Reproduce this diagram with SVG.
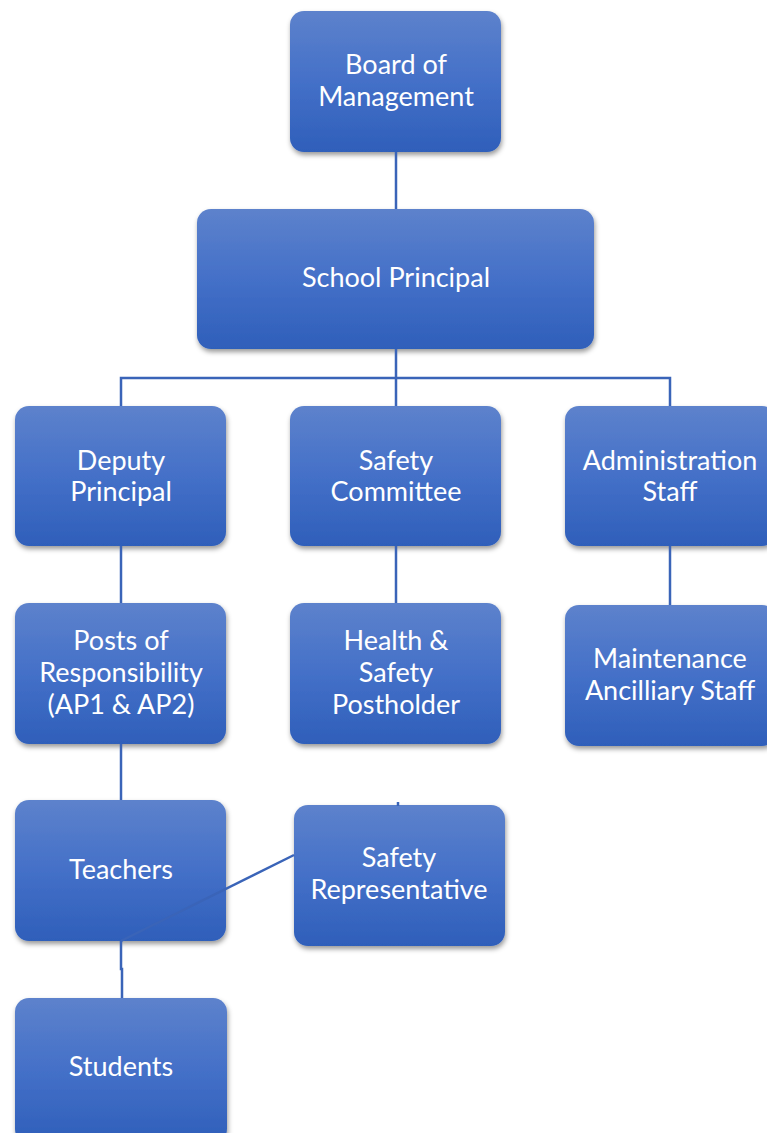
<svg xmlns="http://www.w3.org/2000/svg" width="767" height="1133" viewBox="0 0 767 1133">
<defs>
<linearGradient id="g" x1="0" y1="0" x2="0" y2="1">
<stop offset="0" stop-color="#5d82cc"/>
<stop offset="0.5" stop-color="#4470c8"/>
<stop offset="1" stop-color="#2f5fba"/>
</linearGradient>
<filter id="sh" x="-10%" y="-10%" width="125%" height="130%">
<feDropShadow dx="1" dy="3" stdDeviation="2.5" flood-color="#000" flood-opacity="0.4"/>
</filter>
</defs>
<style>
.box{fill:url(#g);filter:url(#sh)}
.t{font-family:Lato,"Open Sans","Liberation Sans",sans-serif;font-size:27px;fill:#fff;text-anchor:middle}
.c{stroke:#3a64b8;stroke-width:2.5;fill:none}
</style>
<rect width="767" height="1133" fill="#fff"/>
<g id="board">
<rect class="box" x="290" y="11" width="211" height="141" rx="14"/>
<text class="t" x="396" y="74">Board of</text>
<text class="t" x="396" y="106">Management</text>
</g>
<g id="principal">
<rect class="box" x="197" y="209" width="397" height="140" rx="14"/>
<text class="t" x="396" y="287">School Principal</text>
</g>
<g id="deputy">
<rect class="box" x="15" y="406" width="211" height="140" rx="14"/>
<text class="t" x="121" y="470">Deputy</text>
<text class="t" x="121" y="501">Principal</text>
</g>
<g id="committee">
<rect class="box" x="290" y="406" width="211" height="140" rx="14"/>
<text class="t" x="396" y="470">Safety</text>
<text class="t" x="396" y="501">Committee</text>
</g>
<g id="admin">
<rect class="box" x="565" y="406" width="211" height="140" rx="14"/>
<text class="t" x="670" y="470">Administration</text>
<text class="t" x="670" y="501">Staff</text>
</g>
<g id="posts">
<rect class="box" x="15" y="603" width="211" height="141" rx="14"/>
<text class="t" x="121" y="650">Posts of</text>
<text class="t" x="121" y="682">Responsibility</text>
<text class="t" x="121" y="714">(AP1 &amp; AP2)</text>
</g>
<g id="health">
<rect class="box" x="290" y="603" width="211" height="141" rx="14"/>
<text class="t" x="396" y="650">Health &amp;</text>
<text class="t" x="396" y="682">Safety</text>
<text class="t" x="396" y="714">Postholder</text>
</g>
<g id="maintenance">
<rect class="box" x="565" y="605" width="211" height="141" rx="14"/>
<text class="t" x="670" y="668">Maintenance</text>
<text class="t" x="670" y="700">Ancilliary Staff</text>
</g>
<g id="teachers">
<rect class="box" x="15" y="800" width="211" height="141" rx="14"/>
<text class="t" x="121" y="879">Teachers</text>
</g>
<g id="saferep">
<rect class="box" x="294" y="805" width="211" height="141" rx="14"/>
<text class="t" x="399" y="867">Safety</text>
<text class="t" x="399" y="899">Representative</text>
</g>
<g id="students">
<rect class="box" x="15" y="998" width="212" height="145" rx="14"/>
<text class="t" x="121" y="1076">Students</text>
</g>
<g id="connectors">
<path class="c" d="M396 152V209"/>
<path class="c" d="M396 349V378M121 406V378H670V406M396 378V406"/>
<path class="c" d="M121 546V603"/>
<path class="c" d="M396 546V603"/>
<path class="c" d="M670 546V605"/>
<path class="c" d="M121 744V800"/>
<path class="c" d="M121 941V969H122V998"/>
<path class="c" d="M121 941L294 855" stroke-width="2"/>
<path class="c" d="M398 802V806" stroke-width="1.5"/>
</g>
</svg>
